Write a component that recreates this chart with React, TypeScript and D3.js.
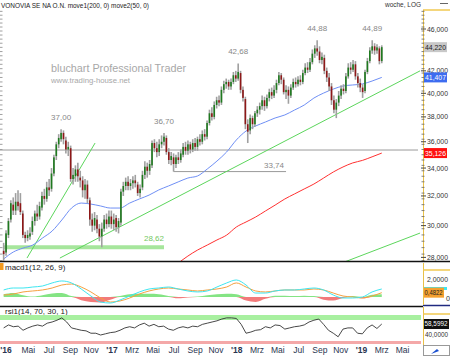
import React from "react";
import * as d3 from "d3";

// ---------- DATA ----------
const FIRST_BAR = new Date(2016, 1, 19);
const title = "VONOVIA SE NA O.N. move1(200, 0) move2(50, 0)";
const periodLabel = "woche, LOG";

const opens = [
  28.4, 28.3, 29.4, 30.4, 31.4, 31.0, 31.6, 31.5, 30.8, 29.4, 29.2, 29.3, 29.6, 30.3, 30.8, 30.6, 31.2, 32.0, 31.8, 32.6,
  32.5, 33.6, 34.9, 35.8, 36.2, 36.7, 36.1, 35.4, 35.5, 33.2, 33.4, 33.9, 33.3, 33.1, 32.4, 32.8, 31.7, 30.4, 30.0, 30.4,
  29.8, 29.3, 29.8, 30.4, 30.1, 30.6, 30.1, 30.5, 29.9, 30.2, 32.3, 32.7, 33.0, 32.7, 32.9, 33.1, 32.8, 32.2, 32.6, 33.5,
  34.1, 33.8, 34.2, 35.9, 35.5, 35.2, 35.8, 36.0, 36.3, 35.2, 34.6, 34.8, 34.3, 34.8, 34.6, 35.0, 35.6, 35.3, 35.8, 35.4,
  35.9, 35.6, 36.2, 36.0, 36.6, 36.4, 37.5, 38.3, 38.0, 39.0, 39.4, 39.2, 40.3, 40.8, 41.0, 40.6, 41.0, 41.6, 41.3, 41.8,
  40.3, 39.5, 37.4, 36.9, 37.9, 37.4, 38.3, 38.6, 38.9, 39.4, 38.9, 39.6, 40.1, 39.8, 40.3, 40.9, 41.6, 41.2, 40.1, 40.3,
  39.8, 40.5, 41.0, 40.8, 41.2, 41.0, 41.8, 42.3, 42.1, 42.8, 43.6, 44.1, 43.8, 43.0, 43.2, 42.0, 41.4, 40.6, 39.4, 38.6,
  39.2, 39.8, 40.4, 40.2, 41.5, 42.3, 42.1, 42.6, 41.5, 40.9, 40.5, 40.2, 41.9, 42.9, 43.9, 44.3, 43.9, 44.1, 42.9,
];
const highs = [
  28.9, 29.7, 30.5, 31.7, 31.9, 32.2, 32.4, 32.2, 31.0, 29.6, 29.7, 29.9, 30.6, 31.0, 31.4, 31.6, 32.3, 32.5, 33.0, 33.2,
  34.0, 35.0, 36.0, 36.6, 37.0, 36.9, 36.4, 36.0, 35.7, 34.0, 34.2, 34.4, 33.8, 33.4, 33.2, 33.1, 31.9, 30.8, 30.9, 30.7,
  30.1, 30.2, 30.7, 30.8, 31.0, 31.0, 30.8, 30.7, 30.5, 32.5, 33.0, 33.3, 33.4, 33.2, 33.4, 33.5, 33.0, 32.8, 33.8, 34.5,
  34.4, 34.6, 36.1, 36.2, 36.0, 36.2, 36.5, 36.7, 36.5, 35.5, 35.2, 35.1, 35.0, 35.2, 35.4, 35.9, 36.0, 36.1, 36.0, 36.2,
  36.3, 36.4, 36.6, 36.9, 37.0, 37.7, 38.6, 38.8, 39.3, 39.7, 39.8, 40.6, 41.1, 41.3, 41.2, 41.3, 41.9, 42.0, 42.68, 42.0,
  40.6, 39.7, 37.8, 38.2, 38.1, 38.5, 38.9, 39.2, 39.8, 39.7, 39.9, 40.4, 40.5, 40.7, 41.2, 41.9, 41.8, 41.4, 40.7, 40.6,
  40.8, 41.3, 41.4, 41.5, 41.6, 42.1, 42.7, 42.8, 43.2, 44.0, 44.4, 44.88, 44.3, 43.7, 43.5, 42.3, 41.8, 40.9, 39.8, 39.5,
  40.2, 40.7, 40.8, 41.8, 42.7, 42.8, 43.0, 42.9, 41.8, 41.3, 40.8, 42.1, 43.2, 44.2, 44.89, 44.6, 44.5, 44.3, 44.4,
];
const lows = [
  27.8, 28.1, 29.2, 30.2, 30.7, 30.7, 31.0, 30.7, 29.2, 28.9, 29.0, 29.1, 29.4, 30.0, 30.3, 30.4, 31.0, 31.4, 31.6, 32.0,
  32.3, 33.4, 34.6, 35.5, 36.0, 35.8, 35.1, 34.9, 33.0, 32.8, 33.0, 33.0, 32.6, 31.9, 31.8, 31.5, 30.0, 29.6, 29.7, 29.5,
  29.0, 28.62, 29.6, 29.8, 29.9, 29.8, 29.7, 29.6, 29.5, 30.0, 32.0, 32.4, 32.4, 32.4, 32.5, 32.6, 32.0, 31.9, 32.4, 33.2,
  33.3, 33.5, 34.0, 35.2, 34.8, 34.9, 35.5, 35.7, 35.0, 34.3, 34.2, 33.74, 34.0, 34.3, 34.4, 34.8, 35.0, 35.0, 35.1, 35.2,
  35.3, 35.3, 35.7, 35.8, 36.1, 36.2, 37.3, 37.7, 37.8, 38.7, 38.9, 39.0, 40.0, 40.4, 40.3, 40.3, 40.8, 41.0, 41.1, 40.0,
  39.3, 37.0, 35.9, 36.6, 37.0, 37.2, 38.0, 38.2, 38.6, 38.5, 38.7, 39.3, 39.5, 39.6, 40.0, 40.7, 40.8, 39.9, 39.5, 39.1,
  39.6, 40.3, 40.5, 40.6, 40.7, 40.8, 41.6, 41.8, 41.9, 42.6, 43.2, 43.4, 42.7, 42.6, 41.7, 41.0, 40.2, 39.0, 38.3, 37.9,
  38.9, 39.5, 39.9, 40.0, 41.3, 41.7, 41.9, 41.2, 40.5, 40.1, 39.6, 40.0, 41.7, 42.7, 43.6, 43.5, 43.6, 42.6, 42.7,
];
const closes = [
  28.2, 29.5, 30.3, 31.5, 31.0, 31.6, 31.3, 30.9, 29.4, 29.2, 29.4, 29.5, 30.3, 30.8, 30.6, 31.3, 32.0, 31.8, 32.6, 32.4,
  33.6, 34.8, 35.8, 36.3, 36.7, 36.2, 35.4, 35.6, 33.2, 33.5, 33.9, 33.4, 33.1, 32.4, 32.8, 31.8, 30.4, 30.0, 30.5, 29.8,
  29.3, 29.8, 30.4, 30.1, 30.6, 30.1, 30.4, 29.9, 30.3, 32.3, 32.7, 33.0, 32.7, 32.9, 33.1, 32.9, 32.2, 32.5, 33.5, 34.1,
  33.8, 34.3, 35.9, 35.5, 35.2, 35.8, 36.0, 36.4, 35.2, 34.6, 34.9, 34.3, 34.8, 34.6, 35.1, 35.6, 35.3, 35.8, 35.4, 35.9,
  35.6, 36.2, 36.0, 36.6, 36.4, 37.5, 38.3, 38.0, 39.0, 39.4, 39.2, 40.3, 40.8, 41.0, 40.6, 41.0, 41.6, 41.3, 41.9, 40.3,
  39.6, 37.4, 36.8, 37.9, 37.4, 38.3, 38.6, 38.9, 39.4, 38.9, 39.6, 40.1, 39.8, 40.3, 40.9, 41.6, 41.2, 40.1, 40.3, 39.8,
  40.5, 41.0, 40.8, 41.2, 41.0, 41.8, 42.3, 42.1, 42.8, 43.6, 44.1, 43.8, 43.0, 43.3, 42.0, 41.4, 40.6, 39.4, 38.6, 39.2,
  39.8, 40.4, 40.2, 41.5, 42.3, 42.1, 42.6, 41.5, 40.9, 40.5, 40.1, 41.9, 42.9, 43.9, 44.3, 43.9, 44.2, 42.9, 44.22,
];

// moving averages sampled evenly across the bars (40 samples)
const sma50 = [
  27.9, 28.33, 28.57, 28.76, 29.2, 29.65, 30.37, 31.17, 31.51, 31.44, 31.31, 31.17, 31.17, 31.51, 31.79, 32.06, 32.42,
  32.7, 32.99, 33.27, 33.42, 33.93, 34.52, 35.21, 36.14, 36.85, 37.26, 37.58, 37.91, 38.16, 38.57, 38.99, 39.59, 40.02,
  40.37, 40.64, 40.73, 40.82, 41.08, 41.407,
];
const SMA200_START = 18;
const sma200 = [
  27.65, 28.08, 28.45, 28.76, 29.08, 29.39, 29.91, 30.24, 30.57, 30.97, 31.37, 31.79, 32.14, 32.49, 32.84, 33.27, 33.71,
  34.08, 34.38, 34.57, 34.84, 35.126,
];
const macdLine = [
  0.78, 1.0, 1.0, 1.11, 1.22, 1.56, 1.78, 1.56, 0.89, 0.11, -0.56, -0.67, -0.33, 0.11, 0.56, 0.89, 1.0, 1.11, 0.89, 0.67,
  0.56, 0.67, 1.11, 1.56, 1.89, 1.33, 0.44, 0.44, 0.67, 0.78, 0.78, 0.89, 1.0, 0.78, 0.22, -0.11, -0.11, 0.0, 0.56, 0.89,
];
const macdSignal = [
  0.22, 0.33, 0.56, 0.67, 0.78, 1.0, 1.33, 1.44, 1.11, 0.56, -0.11, -0.56, -0.44, -0.11, 0.33, 0.67, 0.89, 1.0, 0.89,
  0.78, 0.67, 0.78, 0.89, 1.11, 1.56, 1.11, 0.67, 0.56, 0.67, 0.78, 0.78, 0.78, 0.89, 0.78, 0.44, 0.11, 0.0, -0.11, 0.11,
  0.4822,
];
const macdHist = [
  0.3, 0.45, 0.2, 0.05, 0.2, 0.4, 0.45, 0.1, -0.35, -0.55, -0.6, -0.3, 0.1, 0.3, 0.35, 0.35, 0.3, 0.1, -0.15, -0.05, 0.05,
  0.2, 0.3, 0.35, 0.3, -0.4, -0.55, -0.2, 0.15, 0.15, 0.1, 0.15, 0.1, -0.3, -0.4, -0.1, 0.1, -0.15, 0.25, 0.3,
];
const rsiValues = [
  52, 57, 54, 55, 48, 52, 55, 57, 55, 60, 62, 65, 69, 62, 52, 50, 48, 47, 43, 43, 40, 42, 44, 45, 48, 52, 54, 52, 57, 60,
  55, 58, 54, 55, 50, 48, 52, 54, 52, 55, 54, 58, 60, 62, 64, 67, 69, 69, 68, 58, 43, 45, 48, 49, 54, 52, 57, 56, 50, 52,
  54, 55, 57, 62, 65, 67, 58, 48, 43, 37, 50, 52, 52, 43, 42, 52, 57, 51, 58.5992,
];

const priceTicks = [28, 30, 32, 34, 36, 38, 40, 42, 46];
const peakBars = [24, 67, 98, 131, 154];
const peakTexts = ["37,00", "36,70", "42,68", "44,88", "44,89"];
const supportLevel = 28.62;
const supportBars = [0, 67];
const shortLevel = 33.74;
const shortBars = [71, 118];
const longLevel = 35.36;
const trendLines = [
  [[23.5, 27.96], [174, 42.0]],
  [[9.76, 27.96], [38.2, 35.9]],
  [[142.6, 27.73], [174, 29.52]],
];
const monthNames = ["", "", "Mrz", "", "Mai", "", "Jul", "", "Sep", "", "Nov", ""];

// ---------- LAYOUT ----------
const W = 450;
const H = 356;
const PR = 423; // plot right edge
const MAIN_TOP = 10;
const MAIN_BOT = 262;
const FONT = "'Liberation Sans', Arial, sans-serif";
const AX_FS = 7.2;

const barDate = (j: number) => new Date(FIRST_BAR.getTime() + j * 7 * 86400000);
const x = d3
  .scaleTime()
  .domain([new Date(2016, 0, 1), new Date(2019, 0, 1)])
  .range([-13.1, 361.6]);
const y = d3.scaleLog().domain([27.72, 47.94]).range([MAIN_BOT, MAIN_TOP]);
const yM = d3.scaleLinear().domain([0, 2]).range([297, 279]);
const yR = d3.scaleLinear().domain([40, 60]).range([335, 323.18]);

const nBars = closes.length;
const sampleX = (k: number, n: number) => x(barDate((k * (nBars - 1)) / (n - 1)));

const fmt = (v: number, d: number) => v.toFixed(d).replace(".", ",");

export default function App() {
  const lineMain = d3.line<number>();
  const blue = d3
    .line<number>()
    .x((_, k) => sampleX(k, sma50.length))
    .y((v) => y(v))
    .curve(d3.curveMonotoneX)(sma50);
  const red = d3
    .line<number>()
    .x((_, k) => sampleX(k + SMA200_START, sma50.length))
    .y((v) => y(v))
    .curve(d3.curveMonotoneX)(sma200);
  const macdPath = d3
    .line<number>()
    .x((_, k) => sampleX(k, macdLine.length))
    .y((v) => yM(v))
    .curve(d3.curveMonotoneX)(macdLine);
  const sigPath = d3
    .line<number>()
    .x((_, k) => sampleX(k, macdSignal.length))
    .y((v) => yM(v))
    .curve(d3.curveMonotoneX)(macdSignal);
  const histPos = d3
    .area<number>()
    .x((_, k) => sampleX(k, macdHist.length))
    .y0(yM(0))
    .y1((v) => yM(Math.max(0, v)))
    .curve(d3.curveMonotoneX)(macdHist);
  const histNeg = d3
    .area<number>()
    .x((_, k) => sampleX(k, macdHist.length))
    .y0(yM(0))
    .y1((v) => yM(Math.min(0, v)))
    .curve(d3.curveMonotoneX)(macdHist);
  const rsiPath = d3
    .line<number>()
    .x((_, k) => sampleX(k, rsiValues.length))
    .y((v) => yR(v))(rsiValues);

  const months = d3.timeMonth
    .every(2)!
    .range(new Date(2016, 0, 1), new Date(2019, 5, 2))
    .filter((d) => d.getMonth() === 0 || x(d) > 15);
  const minorTicks = d3.range(27.8, 48, 0.4);

  const last = closes[nBars - 1];
  const lastBlue = sma50[sma50.length - 1];
  const lastRed = sma200[sma200.length - 1];
  const lastSig = macdSignal[macdSignal.length - 1];
  const lastRsi = rsiValues[rsiValues.length - 1];

  return (
    <svg width={W} height={H} style={{ position: "absolute", left: 0, top: 0, background: "#fff" }} fontFamily={FONT}>
      <defs>
        <clipPath id="mainClip">
          <rect x={0} y={MAIN_TOP} width={PR} height={MAIN_BOT - MAIN_TOP} />
        </clipPath>
        <clipPath id="macdClip">
          <rect x={0} y={263} width={PR} height={42} />
        </clipPath>
      </defs>

      {/* header */}
      <text x={1} y={8} fontSize={8} fill="#222" textLength={148} lengthAdjust="spacingAndGlyphs">
        {title}
      </text>
      <text x={385} y={7} fontSize={8} fill="#333" textLength={36} lengthAdjust="spacingAndGlyphs">
        {periodLabel}
      </text>
      <line x1={440} x2={448} y1={3.5} y2={3.5} stroke="#666" strokeWidth={1} />
      <line x1={423} x2={450} y1={10} y2={10} stroke="#f0c850" strokeWidth={1.5} />

      {/* watermark */}
      <text x={51} y={72} fontSize={11.5} fill="#a8a8a8" textLength={135} lengthAdjust="spacingAndGlyphs">
        bluchart Professional Trader
      </text>
      <text x={51} y={83} fontSize={7.5} fill="#a8a8a8" textLength={79} lengthAdjust="spacingAndGlyphs">
        www.trading-house.net
      </text>

      {/* left edge ticks */}
      {minorTicks.map((v, i) => (
        <line key={"lt" + i} x1={0} x2={2.5} y1={y(v)} y2={y(v)} stroke="#888" strokeWidth={0.8} />
      ))}

      <g clipPath="url(#mainClip)">
        <line
          x1={x(barDate(supportBars[0]))}
          x2={x(barDate(supportBars[1]))}
          y1={y(supportLevel)}
          y2={y(supportLevel)}
          stroke="#a6e69c"
          strokeWidth={4}
        />
        <line x1={0} x2={418} y1={y(longLevel)} y2={y(longLevel)} stroke="#9a9a9a" strokeWidth={1} />
        <line
          x1={x(barDate(shortBars[0]))}
          x2={x(barDate(shortBars[1]))}
          y1={y(shortLevel)}
          y2={y(shortLevel)}
          stroke="#9a9a9a"
          strokeWidth={1}
        />
        {trendLines.map((tl, i) => (
          <path
            key={"tl" + i}
            d={lineMain(tl.map(([j, p]) => [x(barDate(j)), y(p)] as [number, number])) || ""}
            stroke="#5cd65c"
            strokeWidth={1}
            fill="none"
          />
        ))}
        <path d={red || ""} stroke="#ff3030" strokeWidth={1} fill="none" />
        <path d={blue || ""} stroke="#6f8ff5" strokeWidth={1} fill="none" />

        {closes.map((c, i) => {
          const o = opens[i];
          const cx = x(barDate(i));
          const up = c >= o;
          const top = y(Math.max(o, c));
          const h = Math.max(1, Math.abs(y(o) - y(c)));
          return (
            <g key={"c" + i}>
              <line x1={cx} x2={cx} y1={y(highs[i])} y2={y(lows[i])} stroke="#a0a0a0" strokeWidth={1.6} />
              <rect x={cx - 0.8} width={1.6} y={top} height={h} fill={up ? "#1f7a1f" : "#8e1818"} />
            </g>
          );
        })}

        {peakBars.map((b, i) => (
          <text
            key={"pk" + i}
            x={x(barDate(b))}
            y={y(highs[b]) - 9}
            fontSize={8}
            fill="#888"
            textAnchor="middle"
          >
            {peakTexts[i]}
          </text>
        ))}
        <text x={x(barDate(supportBars[1]))} y={y(supportLevel) - 6} fontSize={8} fill="#72c862" textAnchor="end">
          {fmt(supportLevel, 2)}
        </text>
        <text x={x(barDate(shortBars[1])) - 2} y={y(shortLevel) - 4} fontSize={8} fill="#888" textAnchor="end">
          {fmt(shortLevel, 2)}
        </text>
      </g>

      {/* right axis main */}
      <line x1={PR + 0.5} x2={PR + 0.5} y1={MAIN_TOP} y2={MAIN_BOT} stroke="#e8c048" strokeWidth={1} />
      {minorTicks.map((v, i) => (
        <line key={"rt" + i} x1={PR - 1.5} x2={PR + 1.5} y1={y(v)} y2={y(v)} stroke="#666" strokeWidth={0.8} />
      ))}
      {priceTicks.map((v) => (
        <g key={"pt" + v}>
          <line x1={PR - 2} x2={PR + 3} y1={y(v)} y2={y(v)} stroke="#444" strokeWidth={1} />
          <text x={427} y={y(v)} dy="0.35em" fontSize={AX_FS} fill="#333" textLength={21} lengthAdjust="spacingAndGlyphs">
            {fmt(v, 3)}
          </text>
        </g>
      ))}
      <rect x={PR + 1} y={y(last) - 5} width={23} height={10} fill="#c8c8c8" />
      <text x={425} y={y(last)} dy="0.35em" fontSize={AX_FS} fill="#222" textLength={21} lengthAdjust="spacingAndGlyphs">
        {fmt(last, 3)}
      </text>
      <rect x={PR + 1} y={y(lastBlue) - 5} width={23} height={10} fill="#3d6cf0" />
      <text x={425} y={y(lastBlue)} dy="0.35em" fontSize={AX_FS} fill="#fff" textLength={21} lengthAdjust="spacingAndGlyphs">
        {fmt(lastBlue, 3)}
      </text>
      <rect x={PR + 1} y={y(lastRed) - 5} width={23} height={10} fill="#ff1010" />
      <text x={425} y={y(lastRed)} dy="0.35em" fontSize={AX_FS} fill="#fff" textLength={21} lengthAdjust="spacingAndGlyphs">
        {fmt(lastRed, 3)}
      </text>

      {/* separators */}
      <line x1={0} x2={W} y1={261.5} y2={261.5} stroke="#111" strokeWidth={1.5} />
      <line x1={0} x2={PR} y1={306.5} y2={306.5} stroke="#111" strokeWidth={1.5} />
      <line x1={PR} x2={W} y1={305.5} y2={305.5} stroke="#202a80" strokeWidth={1.5} />

      {/* MACD panel */}
      <rect x={0} y={263} width={3.5} height={7} fill="#f39a1e" />
      <text x={5} y={270} fontSize={8} fill="#222">
        macd1(12, 26, 9)
      </text>
      <g clipPath="url(#macdClip)">
        <path d={histPos || ""} fill="#84e484" />
        <path d={histNeg || ""} fill="#f27a7a" />
        <path d={sigPath || ""} stroke="#f5a040" strokeWidth={1} fill="none" />
        <path d={macdPath || ""} stroke="#3ee6f0" strokeWidth={1} fill="none" />
      </g>
      <line x1={PR + 0.5} x2={PR + 0.5} y1={263} y2={305} stroke="#e8c048" strokeWidth={1} />
      <line x1={PR} x2={W} y1={270} y2={270} stroke="#f0c850" strokeWidth={1.5} />
      <text x={427} y={yM(2)} dy="0.35em" fontSize={AX_FS} fill="#333" textLength={21} lengthAdjust="spacingAndGlyphs">
        2,0000
      </text>
      <text x={446} y={yM(0) + 1} dy="0.35em" fontSize={AX_FS} fill="#333">
        0
      </text>
      <rect x={PR + 1} y={yM(macdLine[macdLine.length - 1]) - 2} width={23} height={3} fill="#3ee6f0" />
      <rect x={PR + 1} y={yM(lastSig) - 5} width={20} height={10} fill="#f5a030" />
      <text x={424.5} y={yM(lastSig)} dy="0.35em" fontSize={6.8} fill="#222" textLength={18} lengthAdjust="spacingAndGlyphs">
        {fmt(lastSig, 4)}
      </text>

      {/* RSI panel */}
      <text x={5} y={314} fontSize={8} fill="#222">
        rsi1(14, 70, 30, 1)
      </text>
      <rect x={0} y={315} width={PR - 2} height={5} fill="#a8f0a0" />
      <rect x={0} y={341} width={PR - 2} height={3} fill="#f4a8a8" />
      <path d={rsiPath || ""} stroke="#333" strokeWidth={0.9} fill="none" />
      <line x1={PR + 0.5} x2={PR + 0.5} y1={307} y2={345} stroke="#e8c048" strokeWidth={1} />
      <line x1={PR} x2={W} y1={314} y2={314} stroke="#f0c850" strokeWidth={1.5} />
      <text x={425} y={yR(40)} dy="0.35em" fontSize={6.8} fill="#333" textLength={23} lengthAdjust="spacingAndGlyphs">
        40,0000
      </text>
      <rect x={PR + 1} y={yR(lastRsi) - 5} width={25} height={10} fill="#111" />
      <text x={424.5} y={yR(lastRsi)} dy="0.35em" fontSize={6.8} fill="#fff" textLength={23} lengthAdjust="spacingAndGlyphs">
        {fmt(lastRsi, 4)}
      </text>

      {/* x axis */}
      {months.map((d, i) => {
        const isYear = d.getMonth() === 0;
        const px = Math.max(6, x(d));
        const txt = isYear ? "'" + String(d.getFullYear()).slice(2) : monthNames[d.getMonth()];
        return (
          <text
            key={"m" + i}
            x={px}
            y={353}
            fontSize={8.5}
            fill="#2a3550"
            fontWeight={isYear ? "bold" : "normal"}
            textAnchor="middle"
          >
            {txt}
          </text>
        );
      })}
      <rect x={PR + 0.5} y={345.5} width={26} height={10} fill="#fff" stroke="#999" strokeWidth={1} />
      <path d="M431,354 L437,349 L439,351 Z" fill="#1a50d0" />
    </svg>
  );
}
